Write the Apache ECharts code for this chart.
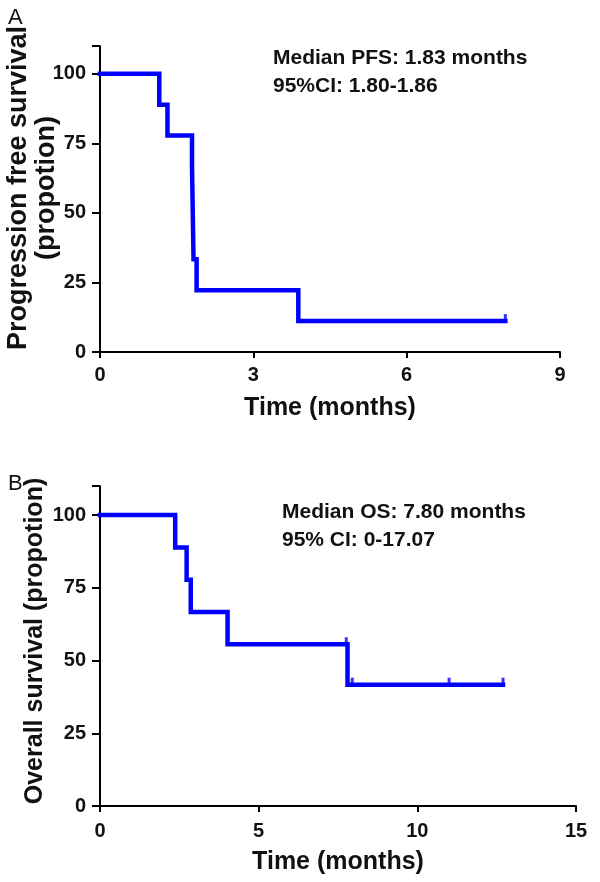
<!DOCTYPE html>
<html>
<head>
<meta charset="utf-8">
<script src="https://cdn.jsdelivr.net/npm/echarts@6/dist/echarts.min.js"></script>
<style>
html,body{margin:0;padding:0;background:#fff;}
#c{width:600px;height:882px;}
</style>
</head>
<body>
<div id="c"></div>
<script>
// Panel A: progression-free survival (Kaplan-Meier steps)
var pfsTimes = [0, 1.16, 1.32, 1.80, 1.83, 1.89, 3.88, 7.93];
var pfsSurv  = [100, 88.9, 77.8, 66.7, 33.3, 22.2, 11.1, 11.1];
var pfsCensorTimes = [7.93];
var pfsCensorSurv  = [11.1];
var pfsXTicks = [0, 3, 6, 9];
var yTicks = [0, 25, 50, 75, 100];

// Panel B: overall survival
var osTimes = [0, 2.37, 2.73, 2.86, 4.02, 7.80, 12.7];
var osSurv  = [100, 88.9, 77.8, 66.7, 55.6, 41.7, 41.7];
var osCensorTimes = [7.76, 7.95, 11.0, 12.7];
var osCensorSurv  = [55.6, 41.7, 41.7, 41.7];
var osXTicks = [0, 5, 10, 15];

var pfsLabel1 = 'Median PFS: 1.83 months';
var pfsLabel2 = '95%CI: 1.80-1.86';
var osLabel1 = 'Median OS: 7.80 months';
var osLabel2 = '95% CI: 0-17.07';

function zip(a, b) { return a.map(function (v, i) { return [v, b[i]]; }); }

var FONT = 'Liberation Sans, Arial, sans-serif';
function merge(a, b) { var o = {}; for (var k in a) o[k] = a[k]; for (var k2 in b) o[k2] = b[k2]; return o; }
var lineBlack = { color: '#000', width: 2 };
var labelStyle = { color: '#111', fontFamily: FONT, fontWeight: 'bold', fontSize: 20 };
var nameStyle = { color: '#111', fontFamily: FONT, fontWeight: 'bold', fontSize: 25 };

function yLabelFmt(v) { return yTicks.indexOf(v) >= 0 ? String(v) : ''; }

var chart = echarts.init(document.getElementById('c'), null, { renderer: 'canvas' });
var option = {
  animation: false,
  backgroundColor: '#fff',
  grid: [
    { left: 100, top: 46, width: 460, height: 306, containLabel: false, outerBoundsMode: 'none' },
    { left: 100, top: 486, width: 476, height: 320, containLabel: false, outerBoundsMode: 'none' }
  ],
  xAxis: [
    {
      gridIndex: 0, type: 'value', min: 0, max: 9, interval: 3,
      splitLine: { show: false },
      axisLine: { show: true, lineStyle: lineBlack },
      axisTick: { show: true, length: 6, lineStyle: lineBlack },
      axisLabel: merge(labelStyle, { margin: 13 }),
      name: 'Time (months)', nameLocation: 'middle', nameGap: 44, nameMoveOverlap: false,
      nameTextStyle: nameStyle
    },
    {
      gridIndex: 1, type: 'value', min: 0, max: 15, interval: 5,
      splitLine: { show: false },
      axisLine: { show: true, lineStyle: lineBlack },
      axisTick: { show: true, length: 6, lineStyle: lineBlack },
      axisLabel: merge(labelStyle, { margin: 15 }),
      name: 'Time (months)', nameLocation: 'middle', nameGap: 44, nameMoveOverlap: false,
      nameTextStyle: nameStyle
    }
  ],
  yAxis: [
    {
      gridIndex: 0, type: 'value', min: 0, max: 110, interval: 25,
      splitLine: { show: false },
      axisLine: { show: true, lineStyle: lineBlack },
      axisTick: { show: true, length: 8, lineStyle: lineBlack },
      axisLabel: merge(labelStyle, { margin: 14, formatter: yLabelFmt }),
      name: 'Progression free survival\n(propotion)', nameLocation: 'middle', nameGap: 39, nameMoveOverlap: false,
      nameTextStyle: merge(nameStyle, { fontSize: 27, lineHeight: 28, padding: [0, 0, 0, 22] })
    },
    {
      gridIndex: 1, type: 'value', min: 0, max: 110, interval: 25,
      splitLine: { show: false },
      axisLine: { show: true, lineStyle: lineBlack },
      axisTick: { show: true, length: 8, lineStyle: lineBlack },
      axisLabel: merge(labelStyle, { margin: 14, formatter: yLabelFmt }),
      name: 'Overall survival (propotion)', nameLocation: 'middle', nameGap: 51, nameMoveOverlap: false,
      nameTextStyle: merge(nameStyle, { fontSize: 25, lineHeight: 28, padding: [0, 0, 0, 10] })
    }
  ],
  title: [
    { text: 'A', left: 3, top: 2, textStyle: { fontFamily: FONT, fontWeight: 'normal', fontSize: 22, color: '#111' } },
    { text: 'B', left: 3, top: 468, textStyle: { fontFamily: FONT, fontWeight: 'normal', fontSize: 22, color: '#111' } },
    { text: pfsLabel1 + '\n' + pfsLabel2, left: 273, top: 44, padding: 0,
      textStyle: { fontFamily: FONT, fontWeight: 'bold', fontSize: 21, lineHeight: 28, color: '#111' } },
    { text: osLabel1 + '\n' + osLabel2, left: 282, top: 498, padding: 0,
      textStyle: { fontFamily: FONT, fontWeight: 'bold', fontSize: 21, lineHeight: 28, color: '#111' } }
  ],
  series: [
    { type: 'line', xAxisIndex: 0, yAxisIndex: 0, step: 'end', symbol: 'none',
      lineStyle: { color: '#0000ff', width: 4.5, cap: 'square', join: 'miter' },
      data: zip(pfsTimes, pfsSurv) },
    { type: 'scatter', xAxisIndex: 0, yAxisIndex: 0, symbol: 'rect', symbolSize: [3, 8], symbolOffset: [0, -3],
      itemStyle: { color: '#0000ff' }, data: zip(pfsCensorTimes, pfsCensorSurv) },
    { type: 'line', xAxisIndex: 1, yAxisIndex: 1, step: 'end', symbol: 'none',
      lineStyle: { color: '#0000ff', width: 4.5, cap: 'square', join: 'miter' },
      data: zip(osTimes, osSurv) },
    { type: 'scatter', xAxisIndex: 1, yAxisIndex: 1, symbol: 'rect', symbolSize: [3, 8], symbolOffset: [0, -3],
      itemStyle: { color: '#0000ff' }, data: zip(osCensorTimes, osCensorSurv) }
  ]
};
chart.setOption(option);
</script>
</body>
</html>
